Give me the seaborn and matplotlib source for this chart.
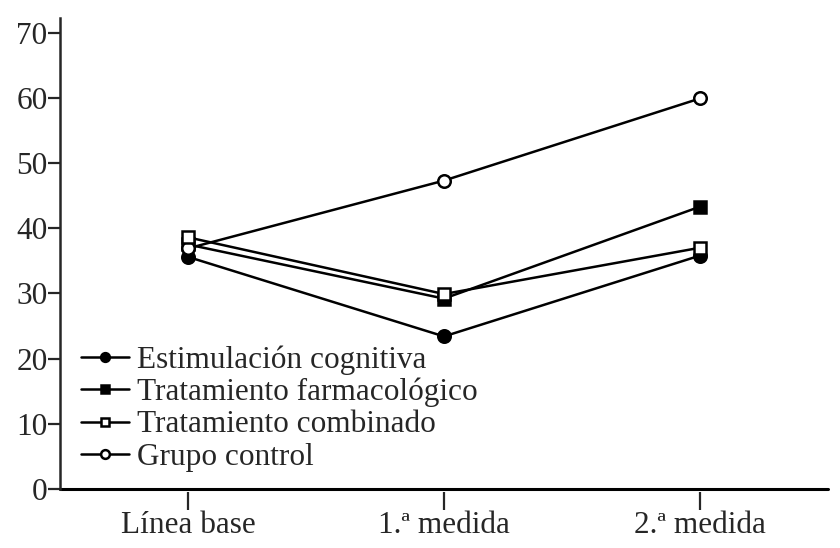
import pandas as pd
import matplotlib
matplotlib.use("Agg")
import matplotlib.pyplot as plt
import seaborn as sns

momentos = ["Línea base", "1.ª medida", "2.ª medida"]
grupos = ["Estimulación cognitiva", "Tratamiento farmacológico",
          "Tratamiento combinado", "Grupo control"]
estimulacion = [35.6, 23.4, 35.8]
farmacologico = [37.5, 29.2, 43.3]
combinado = [38.6, 29.9, 37.0]
control = [36.9, 47.3, 59.9]

valores = [estimulacion, farmacologico, combinado, control]
rows = []
for g, vals in zip(grupos, valores):
    for i, v in enumerate(vals):
        rows.append({"grupo": g, "x": i, "valor": v})
df = pd.DataFrame(rows)

sns.set_style("ticks")
plt.rcParams["font.family"] = ["Liberation Serif", "DejaVu Serif"]

fig = plt.figure(figsize=(8.4, 5.48), dpi=100)
ax = fig.add_axes([0.0714, 0.1077, 0.9143, 0.859])

# estilo de cada serie: marcador y relleno
estilos = {
    "Estimulación cognitiva": ("o", "black"),
    "Tratamiento farmacológico": ("s", "black"),
    "Grupo control": ("o", "white"),
    "Tratamiento combinado": ("s", "white"),
}
orden = ["Estimulación cognitiva", "Tratamiento farmacológico",
         "Grupo control", "Tratamiento combinado"]
lineas = {}
for z, g in enumerate(orden):
    m, fc = estilos[g]
    sub = df[df["grupo"] == g]
    sns.lineplot(data=sub, x="x", y="valor", ax=ax, color="black",
                 linewidth=1.8, marker=m, markersize=9 if m == "o" else 8.5,
                 markerfacecolor=fc, markeredgecolor="black",
                 markeredgewidth=1.8, zorder=3 + z, label=g, legend=False)
    lineas[g] = ax.lines[-1]

ax.set_xlim(-0.5, 2.5)
ax.set_ylim(0, 72.2)
ax.set_yticks(range(0, 71, 10))
ax.set_xticks(range(len(momentos)))
ax.set_xticklabels(momentos)
ax.set_xlabel("")
ax.set_ylabel("")

sns.despine(ax=ax)
ax.spines["left"].set_linewidth(1.8)
ax.spines["bottom"].set_position(("outward", 2))
ax.spines["bottom"].set_visible(False)
ax.axhline(0, color="black", linewidth=2.2, zorder=2, clip_on=False)

ax.tick_params(axis="y", direction="out", length=9, width=1.6,
               labelsize=22.5, pad=0)
ax.tick_params(axis="x", direction="out", length=13, width=1.6,
               labelsize=22.5, pad=1)

handles = [lineas[g] for g in grupos]
leg = ax.legend(handles, grupos, loc="lower left", frameon=False,
                bbox_to_anchor=(0.027, 0.037), borderaxespad=0,
                borderpad=0, fontsize=22.5, handlelength=1.55,
                handletextpad=0.26, labelspacing=0.10, markerscale=0.7)

fig.savefig("out.png", dpi=100)
